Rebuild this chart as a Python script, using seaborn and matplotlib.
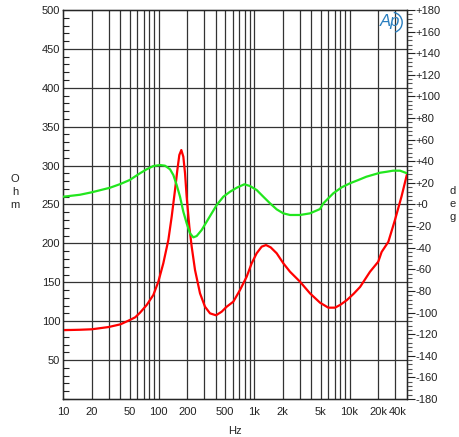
import numpy as np
import pandas as pd
import matplotlib
matplotlib.use("Agg")
import matplotlib.pyplot as plt
import matplotlib.ticker as mticker
from matplotlib.patches import Arc
import seaborn as sns

# impedance magnitude (red, left axis, Ohm)
imp_freq = [10, 15, 20, 30, 40, 50, 57, 64, 75.2, 88.3, 99.6, 112.3, 126.8, 137.4, 148.9,
            157.5, 165.2, 173.4, 182, 189.6, 197.2, 210.3, 222.6, 241.2, 272.1, 306.9,
            346.2, 400, 458.6, 517.3, 607.4, 713.5, 838, 945, 1066, 1203, 1336, 1495,
            1728, 2029, 2382, 3031, 3858, 4911, 6000, 7050, 8000, 9350, 11000, 12900,
            16400, 20000, 21700, 25500, 29900, 35000, 40000]
imp_ohm = [88.5, 89, 89.6, 92.5, 96, 101.5, 105, 110.9, 120.8, 133.7, 150.8, 174.4, 204.4,
           234.3, 268.6, 294.3, 313.6, 320, 311.4, 290.1, 260, 221.5, 195.8, 165.8, 135.8,
           118.6, 110.1, 107.6, 112.2, 118.6, 125.1, 140.1, 157.2, 174.4, 187.3, 195.8,
           197.9, 194.9, 187.3, 174.4, 163.6, 150.8, 135.8, 123.8, 117.4, 117.4, 121, 127,
           135, 144, 163.6, 176.5, 189, 202, 230, 260, 289]

# phase (green, right axis, deg)
ph_freq = [10, 15, 20, 31, 40, 50, 64, 75.2, 88.3, 103.7, 117, 132, 143, 155, 168, 182,
           197.2, 213.8, 231.6, 251, 283, 319.5, 360.4, 406.6, 477.5, 560.8, 658.5, 792,
           908, 1066, 1252, 1471, 1728, 2029, 2382, 3031, 3858, 4911, 5325, 6771, 8280,
           10100, 12400, 15000, 20900, 24500, 28600, 33800, 40000]
ph_deg = [7.2, 9, 11.3, 15.5, 19, 22.7, 28.9, 32.6, 35.6, 36.5, 35.9, 32.6, 27.3, 18.0,
          7.2, -6.7, -17.4, -26.7, -30.4, -29.2, -23.6, -15.9, -8.2, -0.5, 7.2, 11.8,
          15.5, 18.7, 17.1, 13.4, 7.2, 1.1, -4.5, -8.2, -9.7, -9.7, -8.2, -4.2, 1.1, 10.4,
          15.9, 19.6, 22.7, 25.7, 29.4, 30.3, 31.3, 31.3, 28.9]

xticks = [10, 20, 50, 100, 200, 500, 1000, 2000, 5000, 10000, 20000, 40000]
xticklabels = ["10", "20", "50", "100", "200", "500", "1k", "2k", "5k", "10k", "20k", "40k"]

sns.set_style("white")
plt.rcParams["font.family"] = ["Liberation Sans", "DejaVu Sans"]
plt.rcParams["font.size"] = 8

fig = plt.figure(figsize=(4.6, 4.37), dpi=100)
ax = fig.add_axes([63 / 460, 38 / 437, 344 / 460, 389 / 437])

imp_df = pd.DataFrame({"f": imp_freq, "z": imp_ohm})
ph_df = pd.DataFrame({"f": ph_freq, "p": ph_deg})

ax.set_xscale("log")
ax.set_xlim(10, 40000)
ax.set_ylim(0, 500)

# grid
grid_x = [m * 10 ** e for e in range(1, 5) for m in range(1, 10)]
for gx in grid_x:
    if 10 < gx < 40000:
        ax.axvline(gx, color="#333333", lw=0.9, zorder=1)
for gy in range(50, 500, 50):
    ax.axhline(gy, color="#333333", lw=0.9, zorder=1)

sns.lineplot(data=imp_df, x="f", y="z", ax=ax, color="#ff0000", lw=1.6, zorder=3)

ax.set_xticks(xticks)
ax.set_xticklabels(xticklabels)
ax.get_xticklabels()[-1].set_horizontalalignment("right")
ax.get_xticklabels()[-1].set_x(40000)
ax.xaxis.set_minor_locator(mticker.NullLocator())
ax.tick_params(axis="x", length=0, pad=6, labelsize=8, colors="#222222")
ax.set_yticks(range(50, 501, 50))
ax.yaxis.set_minor_locator(mticker.MultipleLocator(10))
ax.tick_params(axis="y", which="major", direction="in", length=0, pad=2, labelsize=8, colors="#222222")
ax.tick_params(axis="y", which="minor", direction="in", length=4, width=0.8, color="#222222", left=True)
ax.set_xlabel("Hz", fontsize=8, labelpad=6)
ax.set_ylabel("")
for s in ax.spines.values():
    s.set_color("black")
    s.set_linewidth(1)

ax2 = ax.twinx()
sns.lineplot(data=ph_df, x="f", y="p", ax=ax2, color="#22e61e", lw=1.6, zorder=3)
ax2.set_ylim(-180, 180)
ax2.set_yticks(range(-180, 181, 20))
ax2.yaxis.set_major_formatter(mticker.FuncFormatter(lambda v, p: f"+{int(v)}" if v >= 0 else f"{int(v)}"))
ax2.yaxis.set_minor_locator(mticker.MultipleLocator(4))
ax2.tick_params(axis="y", which="major", direction="out", length=6, width=0.8, pad=0, labelsize=8,
                colors="#222222", right=True)
ax2.tick_params(axis="y", which="minor", direction="out", length=3.5, width=0.8, color="#555555", right=True)
ax2.set_ylabel("")
ax2.set_xlim(10, 40000)

fig.text(15 / 460, 1 - 192 / 437, "O\nh\nm", ha="center", va="center", fontsize=8, linespacing=1.4)
fig.text(453 / 460, 1 - 204 / 437, "d\ne\ng", ha="center", va="center", fontsize=8, linespacing=1.4)

# AP logo
ax.text(0.950, 0.970, "Ap", transform=ax.transAxes, ha="center", va="center",
        fontsize=12, style="italic", color="#2a7fc0", zorder=5)
ax.add_patch(Arc((0.957, 0.968), 0.058, 0.052, theta1=-70, theta2=80,
                 transform=ax.transAxes, color="#2a7fc0", lw=1.0, zorder=5))

fig.savefig("out.png", dpi=100)
